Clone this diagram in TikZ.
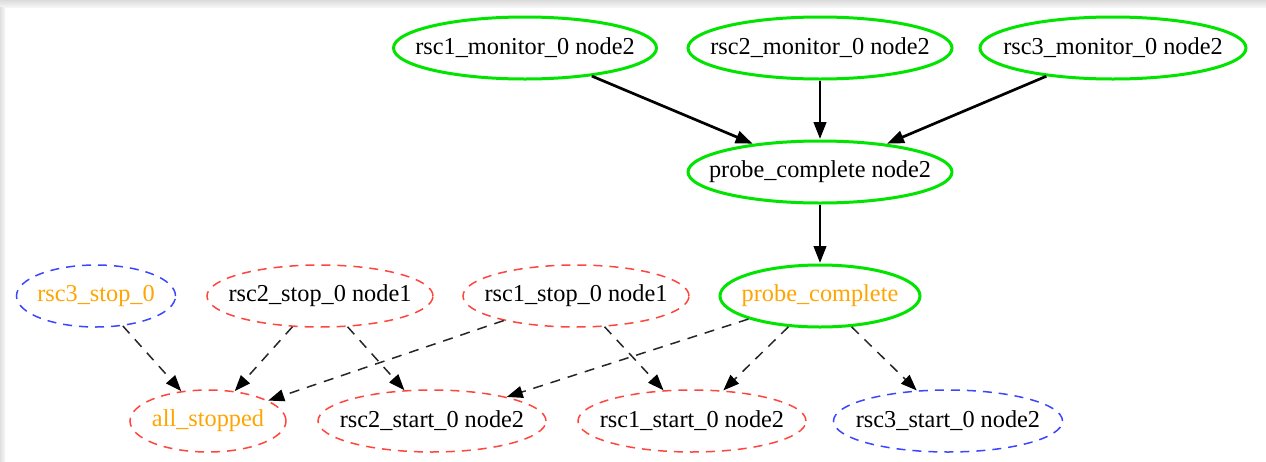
\documentclass[tikz,border=0pt]{standalone}
\usepackage{fontspec}
\setmainfont{Liberation Serif}
\usetikzlibrary{shapes.geometric,arrows.meta}
\definecolor{gvgreen}{RGB}{0,228,0}
\definecolor{gvred}{RGB}{255,70,60}
\definecolor{gvblue}{RGB}{60,70,255}
\definecolor{gvorange}{RGB}{255,165,0}
\newcommand{\lbl}[1]{\makebox[0pt]{#1}}
\tikzset{
  x=1pt,y=-1pt,
  base/.style={ellipse,inner sep=0pt,font=\fontsize{24.3}{26}\selectfont,minimum height=62pt},
  okbox/.style={base,draw=gvgreen,line width=3pt},
  redbox/.style={base,draw=gvred,line width=1.5pt,dash pattern=on 9pt off 7pt},
  bluebox/.style={base,draw=gvblue,line width=1.5pt,dash pattern=on 9pt off 7pt},
  solidarrow/.style={line width=2.7pt,-{Triangle[length=17pt,width=12.5pt]},shorten >=0.5pt},
  dasharrow/.style={line width=1.5pt,dash pattern=on 10pt off 8pt,draw=black!85,
    -{Triangle[length=16pt,width=12pt,color=black,fill=black]}},
}
\begin{document}
\begin{tikzpicture}
\useasboundingbox (0,0) rectangle (1266,461);
\fill[white] (0,0) rectangle (1266,461);
\shade[top color=black!14,bottom color=black!4] (0,0) rectangle (1266,7);
\shade[left color=black!12,right color=black!3] (0,7) rectangle (5,461);

\node[okbox,minimum width=263pt] (m1) at (525,48) {\lbl{rsc1\_monitor\_0 node2}};
\node[okbox,minimum width=264pt] (m2) at (820,48) {\lbl{rsc2\_monitor\_0 node2}};
\node[okbox,minimum width=266pt] (m3) at (1113,48) {\lbl{rsc3\_monitor\_0 node2}};
\node[okbox,minimum width=264pt] (pcn) at (820,172) {\lbl{probe\_complete node2}};
\node[okbox,minimum width=200pt,text=gvorange] (pc) at (820,296) {\lbl{probe\_complete}};

\node[bluebox,minimum width=159pt,text=gvorange] (s3) at (96,296) {\lbl{rsc3\_stop\_0}};
\node[redbox,minimum width=226pt] (s2) at (320,296) {\lbl{rsc2\_stop\_0 node1}};
\node[redbox,minimum width=226pt] (s1) at (576,296) {\lbl{rsc1\_stop\_0 node1}};

\node[redbox,minimum width=156pt,text=gvorange] (as) at (208,421) {\lbl{all\_stopped}};
\node[redbox,minimum width=228pt] (t2) at (432,421) {\lbl{rsc2\_start\_0 node2}};
\node[redbox,minimum width=228pt] (t1) at (692,421) {\lbl{rsc1\_start\_0 node2}};
\node[bluebox,minimum width=229pt] (t3) at (948,421) {\lbl{rsc3\_start\_0 node2}};

\draw[solidarrow] (m1) -- (pcn);
\draw[solidarrow] (m2) -- (pcn);
\draw[solidarrow] (m3) -- (pcn);
\draw[solidarrow] (pcn) -- (pc);

\draw[dasharrow] (s3) -- (as);
\draw[dasharrow] (s2) -- (as);
\draw[dasharrow] (s2) -- (t2);
\draw[dasharrow] (s1) -- (as);
\draw[dasharrow] (s1) -- (t1);
\draw[dasharrow] (pc) -- (t2);
\draw[dasharrow] (pc) -- (t1);
\draw[dasharrow] (pc) -- (t3);
\end{tikzpicture}
\end{document}
